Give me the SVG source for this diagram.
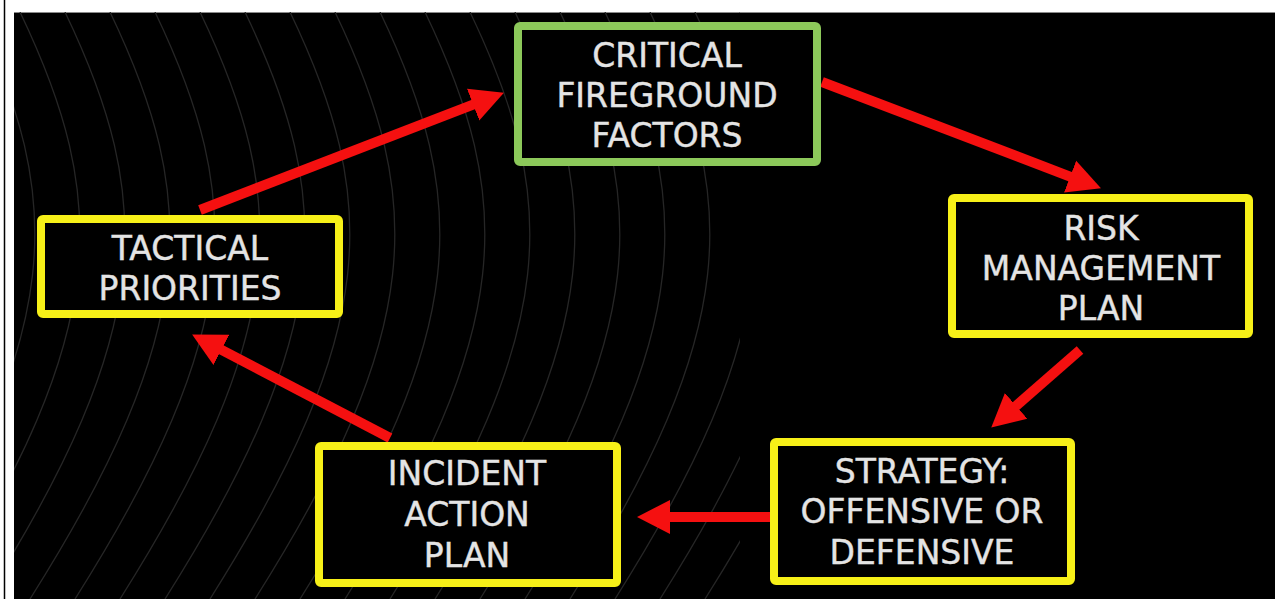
<svg xmlns="http://www.w3.org/2000/svg" width="1275" height="599" viewBox="0 0 1275 599">
  <defs>
    <style>
      .box { fill: #000; stroke-width: 8; stroke-linejoin: round; }
      .yellow { stroke: #f7f018; }
      .green { stroke: #8cc85a; }
      .lbl { font-family: "DejaVu Sans", Verdana, sans-serif; font-size: 33px; fill: #e4e4e4; text-anchor: middle; stroke: #e4e4e4; stroke-width: 0.4; }
      .arrow { stroke: #f51010; stroke-width: 10; fill: none; marker-end: url(#head); }
      .contour { fill: none; stroke: #262626; stroke-width: 1.3; }
    </style>
    <marker id="head" markerUnits="userSpaceOnUse" markerWidth="34" markerHeight="36" viewBox="0 0 34 36" refX="2" refY="18" orient="auto">
      <path d="M0,1 L33,18 L0,35 Z" fill="#f51010"/>
    </marker>
    <clipPath id="bgclip">
      <rect x="14" y="12" width="726" height="587"/>
    </clipPath>
  </defs>

  <rect x="0" y="0" width="1275" height="599" fill="#ffffff"/>
  <line x1="4.5" y1="0" x2="4.5" y2="599" stroke="#000" stroke-width="1.5"/>
  <rect x="14" y="12" width="1261" height="587" fill="#000"/>
  <line x1="14" y1="12.5" x2="1275" y2="12.5" stroke="#8a8a8a" stroke-width="1"/>

  <g id="background" clip-path="url(#bgclip)">
    <path class="contour" d="M-250,12 C-160,200 -160,330 -330,599"/>
    <path class="contour" d="M-205,12 C-115,200 -115,330 -285,599"/>
    <path class="contour" d="M-160,12 C-70,200 -70,330 -240,599"/>
    <path class="contour" d="M-115,12 C-25,200 -25,330 -195,599"/>
    <path class="contour" d="M-70,12 C20,200 20,330 -150,599"/>
    <path class="contour" d="M-25,12 C65,200 65,330 -105,599"/>
    <path class="contour" d="M20,12 C110,200 110,330 -60,599"/>
    <path class="contour" d="M65,12 C155,200 155,330 -15,599"/>
    <path class="contour" d="M110,12 C200,200 200,330 30,599"/>
    <path class="contour" d="M155,12 C245,200 245,330 75,599"/>
    <path class="contour" d="M200,12 C290,200 290,330 120,599"/>
    <path class="contour" d="M245,12 C335,200 335,330 165,599"/>
    <path class="contour" d="M290,12 C380,200 380,330 210,599"/>
    <path class="contour" d="M335,12 C425,200 425,330 255,599"/>
    <path class="contour" d="M380,12 C470,200 470,330 300,599"/>
    <path class="contour" d="M425,12 C515,200 515,330 345,599"/>
    <path class="contour" d="M470,12 C560,200 560,330 390,599"/>
    <path class="contour" d="M515,12 C605,200 605,330 435,599"/>
    <path class="contour" d="M560,12 C650,200 650,330 480,599"/>
    <path class="contour" d="M605,12 C695,200 695,330 525,599"/>
    <path class="contour" d="M650,12 C740,200 740,330 570,599"/>
    <path class="contour" d="M695,12 C785,200 785,330 615,599"/>
    <path class="contour" d="M740,12 C830,200 830,330 660,599"/>
    <path class="contour" d="M785,12 C875,200 875,330 705,599"/>
  </g>

  <g id="connectors">
    <line class="arrow" x1="200" y1="210" x2="475" y2="103.8"/>
    <line class="arrow" x1="822" y1="82" x2="1072" y2="177.3"/>
    <line class="arrow" x1="1080" y1="350" x2="1014.6" y2="407.2"/>
    <line class="arrow" x1="770" y1="517" x2="668" y2="517"/>
    <line class="arrow" x1="390" y1="438" x2="219.6" y2="348.9"/>
  </g>

  <g id="critical">
    <rect class="box green" x="518" y="26" width="299" height="136" rx="2"/>
    <text class="lbl" x="667" y="67">CRITICAL</text>
    <text class="lbl" x="667" y="107">FIREGROUND</text>
    <text class="lbl" x="667" y="147">FACTORS</text>
  </g>

  <g id="risk">
    <rect class="box yellow" x="952" y="198" width="297" height="136" rx="2"/>
    <text class="lbl" x="1101" y="240">RISK</text>
    <text class="lbl" x="1101" y="280">MANAGEMENT</text>
    <text class="lbl" x="1101" y="320">PLAN</text>
  </g>

  <g id="strategy">
    <rect class="box yellow" x="774" y="442" width="297" height="139" rx="2"/>
    <text class="lbl" x="922" y="483">STRATEGY:</text>
    <text class="lbl" x="922" y="523">OFFENSIVE OR</text>
    <text class="lbl" x="922" y="564">DEFENSIVE</text>
  </g>

  <g id="incident">
    <rect class="box yellow" x="319" y="446" width="298" height="137" rx="2"/>
    <text class="lbl" x="467" y="485">INCIDENT</text>
    <text class="lbl" x="467" y="526">ACTION</text>
    <text class="lbl" x="467" y="567">PLAN</text>
  </g>

  <g id="tactical">
    <rect class="box yellow" x="41" y="219" width="298" height="95" rx="2"/>
    <text class="lbl" x="190" y="260">TACTICAL</text>
    <text class="lbl" x="190" y="300">PRIORITIES</text>
  </g>
</svg>
